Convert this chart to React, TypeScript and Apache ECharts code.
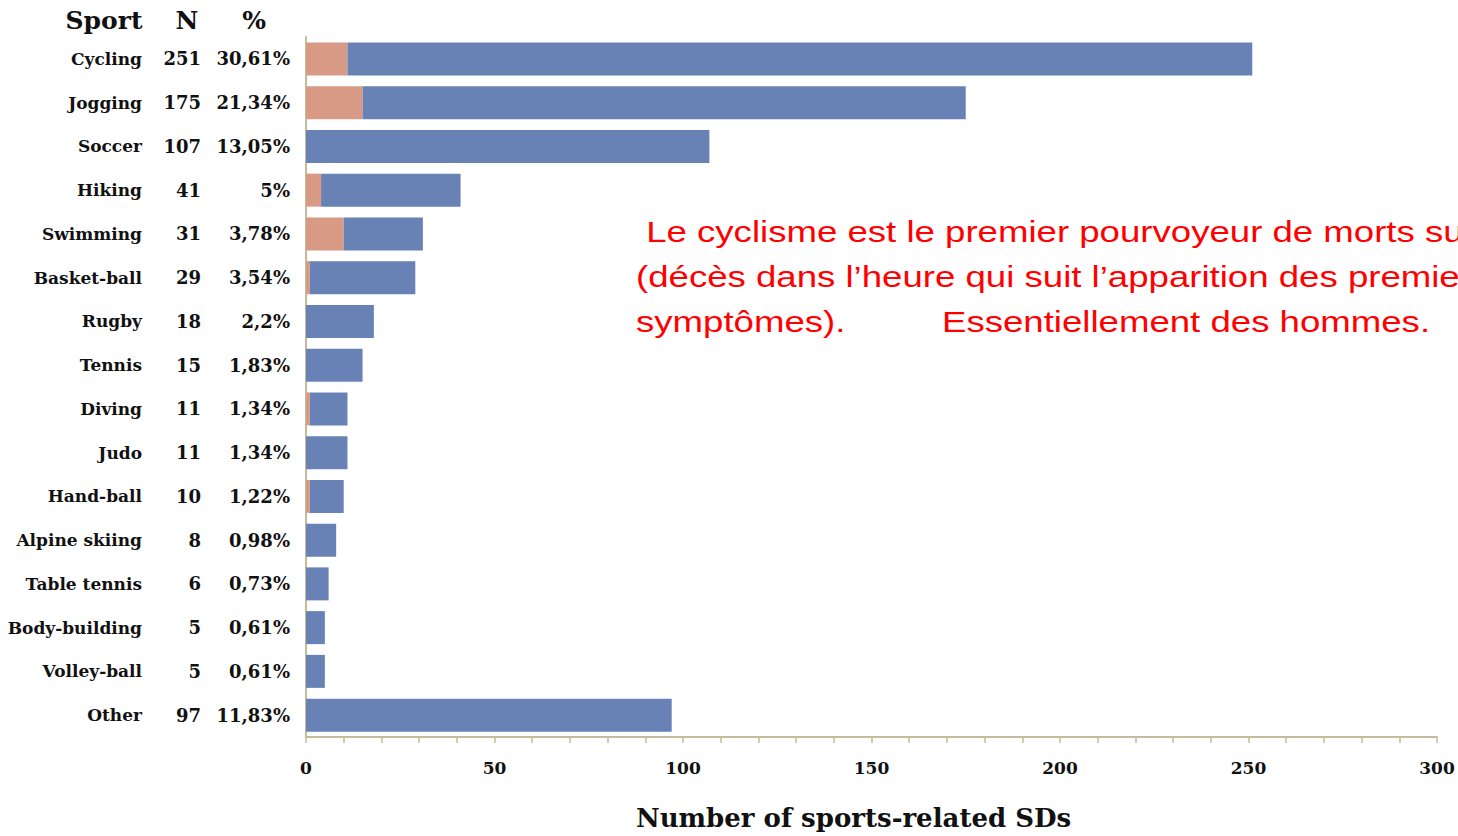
import { useEffect, useRef } from 'react';
import * as echarts from 'echarts';

const sports = ['Cycling', 'Jogging', 'Soccer', 'Hiking', 'Swimming', 'Basket-ball', 'Rugby', 'Tennis', 'Diving', 'Judo', 'Hand-ball', 'Alpine skiing', 'Table tennis', 'Body-building', 'Volley-ball', 'Other'];
const totalN = [251, 175, 107, 41, 31, 29, 18, 15, 11, 11, 10, 8, 6, 5, 5, 97];
const percentLabels = ['30,61%', '21,34%', '13,05%', '5%', '3,78%', '3,54%', '2,2%', '1,83%', '1,34%', '1,34%', '1,22%', '0,98%', '0,73%', '0,61%', '0,61%', '11,83%'];
const womenValues = [11, 15, 0, 4, 10, 1, 0, 0, 1, 0, 1, 0, 0, 0, 0, 0];
const menValues = [240, 160, 107, 37, 21, 28, 18, 15, 10, 11, 9, 8, 6, 5, 5, 97];
const headerLabels = ['Sport', 'N', '%'];
const noteLines = [
  ' Le cyclisme est le premier pourvoyeur de morts subites',
  '(décès dans l\u2019heure qui suit l\u2019apparition des premiers',
  'symptômes).',
];
const noteTail = 'Essentiellement des hommes.';
const xAxisTitle = 'Number of sports-related SDs';

const SERIF = '"DejaVu Serif", serif';
const AXIS = '#c4bb9a';

export default function App() {
  const ref = useRef<HTMLDivElement>(null);
  useEffect(() => {
    if (!ref.current) return;
    const chart = echarts.init(ref.current, undefined, { renderer: 'svg' });
    const headerX = [104, 187, 254];
    const noteY = [232, 277, 322];
    chart.setOption({
      animation: false,
      backgroundColor: '#ffffff',
      grid: { left: 306, right: 21, top: 37, bottom: 99, containLabel: false, outerBoundsMode: 'none' },
      xAxis: {
        type: 'value',
        min: 0,
        max: 300,
        interval: 50,
        name: xAxisTitle,
        nameLocation: 'middle',
        nameGap: 68,
        nameTextStyle: { fontFamily: SERIF, fontWeight: 'bold', fontSize: 26, color: '#111', padding: [0, 36, 0, 0] },
        axisLine: { show: true, lineStyle: { color: AXIS, width: 2 } },
        axisTick: { show: true, length: 6, lineStyle: { color: AXIS, width: 1.5 } },
        minorTick: { show: true, splitNumber: 5, length: 6, lineStyle: { color: AXIS, width: 1.5 } },
        splitLine: { show: false },
        axisLabel: { fontFamily: SERIF, fontWeight: 'bold', fontSize: 17, color: '#111', margin: 22 },
      },
      yAxis: {
        type: 'category',
        inverse: true,
        data: sports,
        axisLine: { show: true, lineStyle: { color: AXIS, width: 2 } },
        axisTick: { show: false },
        axisLabel: {
          margin: 16,
          formatter: (value: string, idx: number) => `{a|${value}}{b|${totalN[idx]}}{c|${percentLabels[idx]}}`,
          rich: {
            a: { width: 142, align: 'right', fontFamily: SERIF, fontWeight: 'bold', fontSize: 17, color: '#111' },
            b: { width: 59, align: 'right', fontFamily: SERIF, fontWeight: 'bold', fontSize: 18, color: '#111' },
            c: { width: 89, align: 'right', fontFamily: SERIF, fontWeight: 'bold', fontSize: 18, color: '#111' },
          },
        },
      },
      series: [
        {
          name: 'Women',
          type: 'bar',
          stack: 'total',
          data: womenValues,
          barWidth: 33,
          itemStyle: { color: '#d99a85' },
        },
        {
          name: 'Men',
          type: 'bar',
          stack: 'total',
          data: menValues,
          barWidth: 33,
          itemStyle: { color: '#6882b5' },
        },
      ],
      graphic: [
        ...headerLabels.map((t, i) => ({
          type: 'text',
          x: headerX[i],
          y: 20,
          style: { text: t, fill: '#111', font: `bold 25px ${SERIF}`, align: 'center', verticalAlign: 'middle' },
        })),
        ...noteLines.map((t, i) => ({
          type: 'text',
          x: 636,
          y: noteY[i],
          scaleX: 1.22,
          style: { text: t, fill: '#ff0000', font: '30px "Liberation Sans", Arial, sans-serif', align: 'left', verticalAlign: 'middle' },
        })),
        {
          type: 'text',
          x: 942,
          y: noteY[2],
          scaleX: 1.22,
          style: { text: noteTail, fill: '#ff0000', font: '30px "Liberation Sans", Arial, sans-serif', align: 'left', verticalAlign: 'middle' },
        },
      ],
    });
    return () => chart.dispose();
  }, []);
  return <div ref={ref} style={{ position: 'fixed', left: 0, top: 0, width: 1458, height: 836 }} />;
}
